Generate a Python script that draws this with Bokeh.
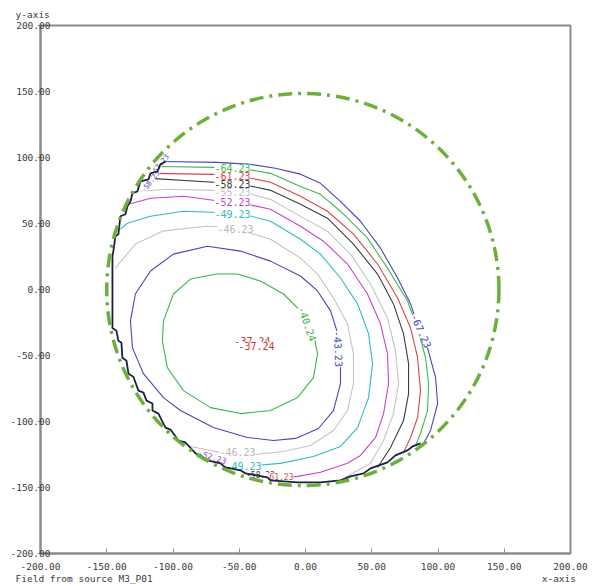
from bokeh.plotting import figure
from bokeh.models import FixedTicker, Title, Range1d
from bokeh.embed import file_html
from bokeh.resources import INLINE
from bokeh.core.properties import value

# ---------------- data ----------------
TICKS = [-200, -150, -100, -50, 0, 50, 100, 150, 200]
TICK_LABELS = ["-200.00", "-150.00", "-100.00", "-50.00", "0.00", "50.00", "100.00", "150.00", "200.00"]
Y_NAME = "y-axis"
X_NAME = "x-axis"
SOURCE_NOTE = "Field from source M3_P01"

# aperture circle (dash-dot)
CIRCLE_X, CIRCLE_Y, CIRCLE_R = -2.0, 0.0, 148.0

# contour lines (field level in dB)
C4024_X = [-67.2, -51.3, -34.0, -16.6, -1.5, 6.0, 9.1, 6.0, -6.0, -26.4, -49.1, -71.7, -92.1, -104.2, -108.0, -107.2, -99.7, -86.8, -67.2]
C4024_Y = [11.7, 11.7, 6.4, -3.4, -18.5, -33.6, -48.7, -66.8, -81.9, -91.7, -94.0, -89.5, -76.6, -59.3, -38.9, -23.8, -3.4, 7.9, 11.7]

C4323_X = [-74.0, -49.1, -26.4, -3.8, 9.1, 18.9, 24.9, 26.4, 26.4, 21.1, 9.8, -7.5, -24.2, -43.8, -69.5, -94.4, -107.2, -122.3, -130.6, -132.1, -128.4, -117.0, -99.7, -74.0]
C4323_Y = [32.8, 29.1, 21.5, 10.2, -1.1, -16.2, -35.1, -54.0, -71.3, -91.7, -105.3, -112.8, -114.4, -112.1, -104.6, -91.7, -81.9, -63.8, -44.2, -23.8, -3.4, 14.0, 26.8, 32.8]

C4623_X = [-143.5, -128.4, -108.0, -75.5, -56.6, -26.4, -3.8, 9.1, 21.1, 31.7, 36.2, 36.2, 31.7, 21.1, 3.8, -16.6, -39.3, -64.2, -86.8, -95.9]
C4623_Y = [16.2, 34.4, 44.2, 47.9, 47.2, 38.1, 23.8, 11.7, -6.4, -26.0, -48.7, -71.3, -91.7, -106.8, -118.2, -122.7, -125.0, -123.4, -118.9, -114.4]

C4923_X = [-139.7, -134.4, -117.0, -92.1, -69.5, -43.8, -26.4, -3.8, 11.3, 26.4, 39.3, 47.6, 50.6, 47.6, 39.3, 26.4, 6.0, -18.9, -36.2, -56.6]
C4923_Y = [45.7, 50.2, 55.5, 59.3, 58.5, 56.2, 51.7, 38.1, 26.8, 8.7, -10.9, -33.6, -56.2, -81.9, -104.6, -118.9, -126.5, -131.7, -133.2, -133.9]

C5223_X = [-133.6, -117.0, -92.1, -69.5, -43.8, -26.4, -3.8, 13.6, 31.7, 46.8, 56.6, 61.9, 62.7, 58.9, 52.9, 41.5, 31.7, 11.3, -6.0, -26.4]
C5223_Y = [64.6, 69.1, 70.6, 67.6, 64.6, 60.8, 47.9, 36.6, 19.3, -3.4, -26.0, -48.7, -71.3, -94.0, -112.1, -125.7, -131.7, -138.5, -141.6, -143.1]

C5523_X = [-124.6, -104.2, -69.5, -43.8, -26.4, -3.8, 16.6, 34.0, 49.1, 61.9, 67.9, 70.2, 66.4, 58.9, 49.1, 30.2]
C5523_Y = [74.4, 75.9, 75.1, 72.9, 68.3, 55.4, 44.2, 26.8, 4.2, -21.5, -46.4, -71.3, -94.0, -114.4, -131.7, -142.3]

C5823_X = [-117.0, -69.5, -43.8, -26.4, -3.8, 16.6, 36.2, 54.4, 66.4, 74.0, 77.8, 77.8, 74.0, 64.2, 54.4]
C5823_Y = [84.2, 81.2, 78.9, 75.1, 64.6, 54.0, 34.4, 11.7, -10.9, -33.6, -56.2, -78.9, -99.3, -119.7, -134.8]

C6123_X = [-113.3, -69.5, -43.8, -26.4, -3.8, 16.6, 36.2, 54.4, 69.5, 79.3, 84.6, 86.8, 84.6, 79.3, 74.0]
C6123_Y = [88.0, 87.2, 84.9, 81.2, 70.6, 59.3, 41.9, 19.3, -6.4, -29.1, -51.7, -76.6, -97.0, -112.1, -123.4]

C6423_X = [-109.5, -69.5, -43.8, -26.4, -3.8, 11.3, 26.4, 46.8, 61.9, 77.0, 85.3, 90.6, 92.9, 92.1, 86.8, 83.0]
C6423_Y = [93.2, 92.5, 91.0, 88.0, 78.1, 72.1, 59.3, 38.9, 16.2, -8.7, -31.3, -51.7, -71.3, -91.7, -109.1, -118.2]

C6723_X = [-108.0, -66.4, -41.5, -22.7, -3.8, 11.3, 26.4, 41.5, 56.6, 69.5, 79.3, 85.3, 92.1, 98.2, 99.7, 94.4, 89.1]
C6723_Y = [97.0, 96.3, 94.8, 91.8, 87.4, 80.4, 66.8, 51.7, 31.3, 8.7, -10.9, -29.1, -44.2, -66.8, -86.4, -106.8, -116.6]

# clipped edge of the field region (stair-stepped)
EDGE_X = [-105.7, -109.5, -111.7, -117.0, -118.5, -124.6, -126.8, -130.6, -132.1, -134.4, -135.9, -139.7, -141.2,
          -143.5, -145.0, -145.7, -145.7, -142.7, -141.2, -138.9, -138.2, -135.1, -133.6, -129.9, -126.1, -122.3,
          -120.0, -115.5, -115.5, -111.0, -105.7, -101.9, -95.9, -90.6, -83.0, -79.3, -74.0, -64.2, -60.4, -49.1,
          -45.3, -28.7, -26.4, -6.0, 11.3, 26.4, 34.0, 43.8, 49.1, 61.9, 67.9, 77.0, 80.8, 86.8]
EDGE_Y = [97.0, 94.8, 89.5, 88.0, 83.4, 81.9, 74.4, 72.9, 66.8, 63.0, 57.0, 55.5, 41.9,
          40.4, 29.1, 25.3, -29.1, -31.3, -38.9, -40.4, -51.7, -54.0, -63.8, -66.1, -76.6, -78.1,
          -84.2, -86.4, -91.7, -94.0, -104.6, -106.1, -114.4, -115.9, -124.2, -125.7, -129.5, -131.7, -134.8, -137.0,
          -139.3, -142.3, -144.6, -146.1, -146.1, -144.6, -141.6, -139.3, -135.5, -131.0, -125.7, -121.9, -118.9, -116.6]

CONTOURS = [
    (C4024_X, C4024_Y, "#3cb44a"),
    (C4323_X, C4323_Y, "#4646b4"),
    (C4623_X, C4623_Y, "#c4c4c4"),
    (C4923_X, C4923_Y, "#2fbcbc"),
    (C5223_X, C5223_Y, "#c446c4"),
    (C5523_X, C5523_Y, "#c4c4c4"),
    (C5823_X, C5823_Y, "#3c3c3c"),
    (C6123_X, C6123_Y, "#d24848"),
    (C6423_X, C6423_Y, "#3cbc4a"),
    (C6723_X, C6723_Y, "#4646b4"),
]

# contour labels: text, x, y, angle (rad), colour, size
LABEL_TEXT = ["-64.23", "-61.23", "-58.23", "-55.23", "-52.23", "-49.23", "-46.23",
              "-46.23", "-49.23", "-52.23", "-58.23", "-61.23",
              "-40.24", "-43.23", "-67.23", "-37.24", "-37.24", "-67.23", "-58.23"]
LABEL_X = [-55.1, -55.1, -55.1, -55.1, -55.1, -55.1, -52.8,
           -51.3, -46.8, -70.2, -34.0, -20.0,
           1.5, 24.9, 87.5, -40.0, -37.0, -110.5, -117.5]
LABEL_Y = [91.7, 85.7, 79.6, 73.6, 66.1, 57.0, 45.7,
           -123.4, -134.0, -126.5, -140.5, -142.0,
           -26.0, -45.0, -31.3, -39.2, -43.0, 94.5, 82.0]
LABEL_ANGLE = [0, 0, 0, 0, 0, 0, 0,
               0, 0, -0.3, 0, 0,
               -1.23, -1.52, -1.15, 0, 0, 0.9, 0.9]
LABEL_COLOR = ["#3cbc4a", "#d24848", "#3c3c3c", "#c4c4c4", "#c446c4", "#2fbcbc", "#b8b8b8",
               "#b8b8b8", "#2fbcbc", "#8a46b4", "#3c3c3c", "#d24848",
               "#3cb44a", "#4646b4", "#4646b4", "#c83838", "#c83838", "#4646b4", "#4646b4"]
LABEL_SIZE = ["10px"] * 7 + ["10px", "10px", "8px", "8px", "8px"] + ["10px"] * 5 + ["7px", "7px"]

FONT = "DejaVu Sans Mono"
TXT = "#3a3a3a"

# ---------------- figure ----------------
p = figure(width=600, height=586, output_backend="svg", toolbar_location=None,
           x_range=Range1d(-200, 200), y_range=Range1d(-200, 200),
           min_border_left=40, min_border_right=30, min_border_top=24, min_border_bottom=33)
p.background_fill_color = "white"
p.border_fill_color = "white"
p.outline_line_color = "#8c8c8c"
p.outline_line_width = 2
p.xgrid.visible = False
p.ygrid.visible = False

# "y-axis" caption above the frame (as title)
p.title.text = Y_NAME
p.title.align = "left"
p.title.offset = -25
p.title.standoff = 12
p.title.text_font = FONT
p.title.text_font_size = "9.5px"
p.title.text_font_style = "normal"
p.title.text_color = TXT

for ax in (p.xaxis[0], p.yaxis[0]):
    ax.ticker = FixedTicker(ticks=TICKS)
    ax.major_label_overrides = {t: l for t, l in zip(TICKS, TICK_LABELS)}
    ax.axis_line_color = "#8c8c8c"
    ax.axis_line_width = 2
    ax.major_tick_line_color = "#8c8c8c"
    ax.major_tick_line_width = 1
    ax.minor_tick_line_color = None
    ax.major_label_text_font = FONT
    ax.major_label_text_font_size = "9.5px"
    ax.major_label_text_color = TXT

p.xaxis.major_tick_in = 5
p.xaxis.major_tick_out = 0
p.xaxis.major_label_standoff = 9
p.yaxis.major_tick_in = 0
p.yaxis.major_tick_out = 3
p.yaxis.major_label_standoff = -13

# bottom caption line: source note on the left, axis name on the right
bottom_text = SOURCE_NOTE + "\u00a0" * 68 + X_NAME
p.add_layout(Title(text=bottom_text, align="left", offset=-25, standoff=-3,
                   text_font=FONT, text_font_size="9.5px", text_font_style="normal",
                   text_color=TXT), "below")

for xs, ys, col in CONTOURS:
    p.line(xs, ys, line_color=col, line_width=1.1)

p.text(x=LABEL_X, y=LABEL_Y, text=LABEL_TEXT, angle=LABEL_ANGLE,
       text_color=LABEL_COLOR, text_font=value(FONT), text_font_size=LABEL_SIZE,
       text_align="center", text_baseline="middle",
       background_fill_color="white")

p.line(EDGE_X, EDGE_Y, line_color="#1e1e46", line_width=1.8)

p.circle(x=[CIRCLE_X], y=[CIRCLE_Y], radius=CIRCLE_R, fill_color=None,
         line_color="#6cb03c", line_width=3.5, line_dash="14 6 3 6")

open("out.html", "w").write(file_html(p, INLINE))
